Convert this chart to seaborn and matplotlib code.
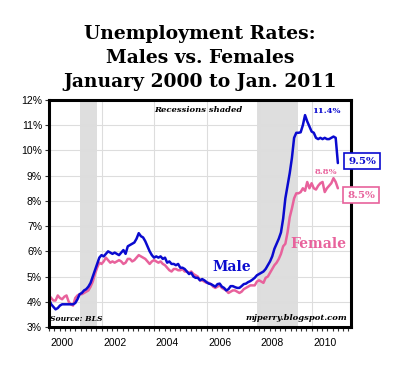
import numpy as np
import pandas as pd
import matplotlib
matplotlib.use("Agg")
import matplotlib.pyplot as plt
import seaborn as sns

# ---- data (monthly, Jan 2000 .. Jan 2011) ----
male = [
    4.1, 3.9, 3.8, 3.7, 3.75, 3.85, 3.9, 3.9, 3.9, 3.9, 3.9, 3.9,          # 2000
    3.95, 4.1, 4.3, 4.35, 4.45, 4.5, 4.6, 4.75, 5.0, 5.25, 5.5, 5.75,      # 2001
    5.85, 5.8, 5.9, 6.0, 5.95, 5.9, 5.95, 5.9, 5.85, 5.95, 6.05, 5.9,      # 2002
    6.2, 6.25, 6.3, 6.35, 6.5, 6.72, 6.6, 6.55, 6.4, 6.2, 6.0, 5.85,       # 2003
    5.75, 5.8, 5.75, 5.8, 5.7, 5.75, 5.55, 5.6, 5.5, 5.5, 5.45, 5.5,       # 2004
    5.35, 5.35, 5.3, 5.2, 5.1, 5.15, 5.0, 4.95, 4.95, 4.85, 4.9, 4.85,     # 2005
    4.78, 4.72, 4.7, 4.65, 4.6, 4.7, 4.72, 4.6, 4.55, 4.45, 4.5, 4.62,     # 2006
    4.62, 4.58, 4.55, 4.55, 4.62, 4.7, 4.72, 4.78, 4.82, 4.88, 4.95, 5.05, # 2007
    5.1, 5.15, 5.2, 5.3, 5.45, 5.6, 5.8, 6.1, 6.3, 6.5, 6.75, 7.3,         # 2008
    8.1, 8.6, 9.1, 9.7, 10.5, 10.7, 10.7, 10.72, 11.0, 11.4, 11.15, 10.95, # 2009
    10.75, 10.7, 10.5, 10.45, 10.5, 10.45, 10.5, 10.45, 10.45, 10.5, 10.55, 10.5,  # 2010
    9.5,                                                                   # 2011
]
female = [
    4.25, 4.15, 4.05, 4.05, 4.25, 4.15, 4.1, 4.2, 4.25, 4.0, 3.9, 3.85,    # 2000
    4.15, 4.25, 4.3, 4.3, 4.35, 4.4, 4.45, 4.6, 4.8, 5.1, 5.35, 5.55,      # 2001
    5.5, 5.6, 5.75, 5.65, 5.55, 5.6, 5.55, 5.6, 5.65, 5.6, 5.5, 5.55,      # 2002
    5.7, 5.7, 5.6, 5.65, 5.75, 5.85, 5.8, 5.75, 5.7, 5.6, 5.5, 5.6,        # 2003
    5.65, 5.6, 5.55, 5.6, 5.5, 5.45, 5.35, 5.25, 5.2, 5.3, 5.3, 5.25,      # 2004
    5.25, 5.3, 5.2, 5.2, 5.15, 5.2, 5.1, 5.05, 5.0, 4.85, 4.85, 4.8,       # 2005
    4.75, 4.75, 4.7, 4.6, 4.55, 4.6, 4.65, 4.55, 4.5, 4.45, 4.35, 4.4,     # 2006
    4.45, 4.45, 4.4, 4.35, 4.4, 4.5, 4.55, 4.6, 4.65, 4.65, 4.65, 4.8,     # 2007
    4.85, 4.8, 4.75, 4.95, 5.0, 5.15, 5.3, 5.45, 5.55, 5.7, 5.9, 6.2,      # 2008
    6.3, 6.75, 7.35, 7.7, 8.1, 8.3, 8.3, 8.35, 8.5, 8.4, 8.75, 8.5,        # 2009
    8.7, 8.5, 8.45, 8.6, 8.7, 8.75, 8.35, 8.5, 8.6, 8.7, 8.9, 8.75,        # 2010
    8.5,                                                                   # 2011
]
start_year = 2000
recessions = [(2001.17, 2001.83), (2007.92, 2009.5)]
y_ticks = [3, 4, 5, 6, 7, 8, 9, 10, 11, 12]
x_labels = ["2000", "2002", "2004", "2006", "2008", "2010"]

n = len(male)
t = start_year + np.arange(n) / 12.0
df = pd.DataFrame({
    "t": np.concatenate([t, t]),
    "rate": male + female,
    "sex": ["Male"] * n + ["Female"] * n,
})

BLUE = "#0A0ACF"
PINK = "#E8629C"

sns.set_theme(style="white")
plt.rcParams["text.color"] = "black"
fig = plt.figure(figsize=(4.0, 3.68), dpi=100)
ax = fig.add_axes([49 / 400, 1 - 327 / 368, 302 / 400, 227 / 368])

for a, b in recessions:
    ax.axvspan(a, b, color="#DEDEDE", zorder=0, lw=0)

for yv in y_ticks:
    ax.axhline(yv, color="#DDDDDD", lw=0.8, zorder=0.5)
for yr in range(2002, 2012, 2):
    ax.axvline(yr, color="#DDDDDD", lw=0.8, zorder=0.5)

sns.lineplot(data=df, x="t", y="rate", hue="sex", palette={"Male": BLUE, "Female": PINK},
             hue_order=["Female", "Male"], lw=1.8, ax=ax, legend=False, zorder=3)

ax.set_xlim(2000.0, 2011.5)
ax.set_ylim(3, 12)
ax.set_xlabel("")
ax.set_ylabel("")
ax.set_yticks(y_ticks)
ax.set_yticklabels([f"{v}%" for v in y_ticks], fontsize=7.5, family="Liberation Sans", color="black")
ax.set_xticks([int(s) + 0.5 for s in x_labels])
ax.set_xticklabels(x_labels, fontsize=7.5, family="Liberation Sans", color="black")
ax.set_xticks(np.arange(2000.0, 2011.5, 0.2), minor=True)
ax.tick_params(axis="y", which="major", direction="out", length=3, width=0.8, color="#333333", pad=2, left=True)
ax.tick_params(axis="x", which="major", length=0, pad=8)
ax.tick_params(axis="x", which="minor", direction="out", length=3, width=0.8, color="#333333", bottom=True)
for s in ax.spines.values():
    s.set_visible(True)
    s.set_color("black")
    s.set_linewidth(2.2)
    s.set_zorder(4)

serif = "DejaVu Serif"

def ft(x, y, s, **kw):
    kw.setdefault("color", "black")
    fig.text(x / 400, 1 - y / 368, s, **kw)

ft(200, 34, "Unemployment Rates:", ha="center", va="center", fontsize=13.5, weight="bold", family=serif)
ft(200, 58, "Males vs. Females", ha="center", va="center", fontsize=13.5, weight="bold", family=serif)
ft(200, 82, "January 2000 to Jan. 2011", ha="center", va="center", fontsize=13.5, weight="bold", family=serif)

ft(198, 110, "Recessions shaded", ha="center", va="center", fontsize=6, weight="bold", style="italic", family=serif)
ft(326, 111, "11.4%", ha="center", va="center", fontsize=6, weight="bold", color=BLUE, family=serif)
ft(326, 172, "8.8%", ha="center", va="center", fontsize=6, weight="bold", color=PINK, family=serif)
ft(76, 319, "Source: BLS", ha="center", va="center", fontsize=5.5, weight="bold", style="italic", family=serif)
ft(296, 318, "mjperry.blogspot.com", ha="center", va="center", fontsize=6, weight="bold", style="italic", family=serif)
ft(232, 267, "Male", ha="center", va="center", fontsize=10, weight="bold", color=BLUE, family=serif)
ft(318, 244, "Female", ha="center", va="center", fontsize=10, weight="bold", color=PINK, family=serif)

ft(362, 161, "9.5%", ha="center", va="center", fontsize=7.5, weight="bold", color=BLUE, family=serif, zorder=10,
   bbox=dict(boxstyle="square,pad=0.35", fc="white", ec=BLUE, lw=1.2))
ft(361, 195, "8.5%", ha="center", va="center", fontsize=7.5, weight="bold", color=PINK, family=serif, zorder=10,
   bbox=dict(boxstyle="square,pad=0.35", fc="white", ec=PINK, lw=1.2))

fig.savefig("out.png", dpi=100, facecolor="white")
